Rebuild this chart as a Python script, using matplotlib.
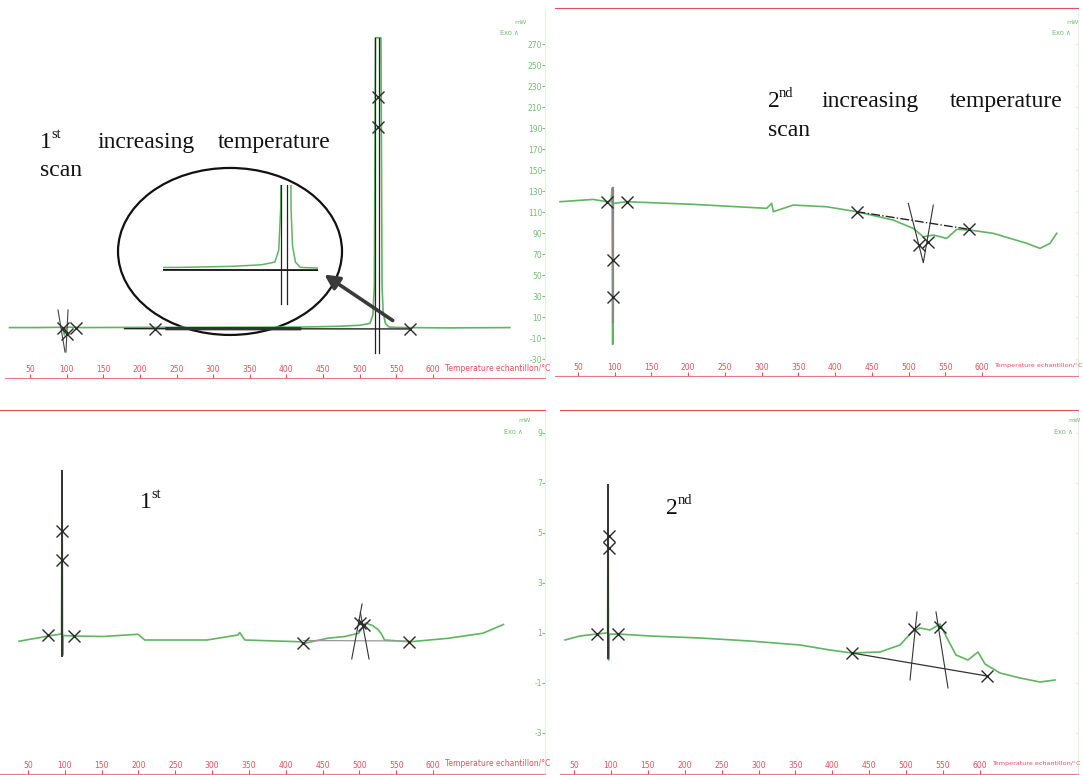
import matplotlib
matplotlib.use("Agg")
import matplotlib.pyplot as plt
from matplotlib.patches import Ellipse

plt.rcParams["axes.unicode_minus"] = False

W, H = 1083, 775
GREEN = "#5fb562"
GREEN_TXT = "#72bd72"
RED = "#e2505c"
MARK = "#2a2a2a"
SERIF = "Liberation Serif"

# ── shared axis ticks ─────────────────────────────────────────────────────────
x_ticks = [50, 100, 150, 200, 250, 300, 350, 400, 450, 500, 550, 600]
a_yticks = [270, 250, 230, 210, 190, 170, 150, 130, 110, 90, 70, 50, 30, 10, -10, -30]
c_yticks = [9, 7, 5, 3, 1, -1, -3]
x_label = "Temperature echantillon/°C"

# ── panel A : 1st scan, heat flow (mW) ────────────────────────────────────────
a_T = [22, 60, 90, 95, 97, 99, 104, 118, 200, 300, 418, 470, 500, 514, 518, 520,
       521.5, 529, 530.5, 532, 535, 540, 560, 620, 705]
a_v = [0, 0, 0.3, 0, -7, 0, 0.4, 0, 0.2, 0.3, 0.5, 1.2, 2.2, 4, 12, 40,
       276, 276, 40, 15, 4, 0.5, 0, -0.3, 0]
a_cross_T = [95, 100.5, 112.8, 220.6, 525, 525, 568.6]
a_cross_v = [0, -6, 0, -1, 219.5, 191, -1.5]
a_base_T = [179, 568.6]
a_base_v = [-1, -1.3]
a_thick_T = [237, 418]
a_thick_v = [-1, -1.1]
a_peak_T = [520.5, 526.5]
a_peak_v = [276, -24]
a_tan1_T = [88.2, 97.8]
a_tan1_v = [16.8, -23.2]
a_tan2_T = [101.9, 99.1]
a_tan2_v = [16.8, -23.2]

# ── panel B : 2nd scan, heat flow (mW) ────────────────────────────────────────
b_T = [25.5, 70.8, 89.1, 95, 96.5, 97.2, 98, 116.3, 206.9, 306.9, 313.7, 315.9,
       343.1, 388.6, 429.4, 479.3, 506.5, 520.1, 533.7, 552, 565.6, 583.7, 615.4,
       660.9, 679, 692.6, 701.7]
b_v = [119.9, 122.1, 119.9, 120, 133, -16, 118.3, 119.9, 117.4, 113.6, 118.3, 110.4,
       116.7, 115.1, 110.4, 102.4, 94.5, 86.5, 88.2, 85, 93.6, 92.9, 89.8,
       80.3, 75.5, 80.3, 89.8]
b_cross_T = [89.1, 116.3, 97.2, 97.2, 429.4, 514.6, 526, 582.7]
b_cross_v = [119.9, 119.9, 64.4, 29.4, 110.4, 78.6, 81.8, 93.6]
b_spike_T = [97.2, 97.2]
b_spike_v = [133, 5]
b_base_T = [429.4, 582.7]
b_base_v = [110.4, 93.6]
b_tan_T = [499.7, 520.1, 533.7]
b_tan_v = [118.3, 61.8, 116.7]

# ── panel C : 1st scan, magnified (mW) ────────────────────────────────────────
c_T = [37.8, 77.6, 95.5, 96.3, 97, 98, 112.5, 152.4, 199.4, 208.6, 293, 335, 337.5,
       344.4, 419.4, 424, 456.9, 480.2, 499, 508.3, 517.7, 524.8, 529.4, 534.1,
       569.2, 620.8, 667.6, 695.6]
c_v = [0.67, 0.88, 0.96, 7.5, 0.1, 0.9, 0.88, 0.86, 0.95, 0.72, 0.72, 0.92, 1.02,
       0.72, 0.65, 0.58, 0.79, 0.86, 0.99, 1.4, 1.3, 1.15, 0.99, 0.72,
       0.65, 0.79, 0.99, 1.34]
c_cross_T = [77.2, 112.5, 96.2, 96.2, 424, 501.3, 506, 566.9]
c_cross_v = [0.92, 0.88, 5.08, 3.92, 0.61, 1.41, 1.34, 0.65]
c_spike_T = [96.2, 96.2]
c_spike_v = [7.5, 0.1]
c_base_T = [424, 567]
c_base_v = [0.7, 0.68]
c_tan1_T = [489.6, 503.6]
c_tan1_v = [-0.04, 2.16]
c_tan2_T = [513.1, 501.3]
c_tan2_v = [-0.04, 1.82]

# ── panel D : 2nd scan, magnified (mW) ────────────────────────────────────────
d_T = [37.8, 58.1, 81.2, 93.4, 95.5, 96.1, 96.8, 98, 109.6, 153, 220.7, 288.4,
       356.2, 396.8, 426.6, 464.5, 491.6, 507.9, 518.7, 532.3, 545.8, 556.7, 567.5,
       583.7, 597.3, 606.8, 627.1, 654.2, 681.3, 701.6]
d_v = [0.72, 0.88, 0.96, 1.0, 1.0, 6.92, -0.08, 0.95, 0.96, 0.88, 0.8, 0.68,
       0.52, 0.32, 0.2, 0.24, 0.52, 1.04, 1.2, 1.12, 1.36, 0.72, 0.12,
       -0.08, 0.24, -0.24, -0.6, -0.8, -0.96, -0.88]
d_cross_T = [81.2, 109.6, 97.4, 97.4, 426.6, 510.6, 545.8, 609.5]
d_cross_v = [0.96, 0.96, 4.4, 4.9, 0.2, 1.16, 1.24, -0.72]
d_spike_T = [96.1, 96.1]
d_spike_v = [6.92, 0]
d_base_T = [426.6, 609.5]
d_base_v = [0.2, -0.72]
d_tan1_T = [505.2, 514.7]
d_tan1_v = [-0.88, 1.84]
d_tan2_T = [540.4, 556.7]
d_tan2_v = [1.84, -1.2]

fig = plt.figure(figsize=(W / 100, H / 100), dpi=100)
fig.patch.set_facecolor("white")


def make_panel(left, right, top, bottom, xlim, ylim, yticks, show_top, show_ylab, lab_size):
    ax = fig.add_axes([left / W, 1 - bottom / H, (right - left) / W, (bottom - top) / H])
    ax.set_xlim(xlim)
    ax.set_ylim(ylim)
    ax.patch.set_visible(False)
    ax.spines["left"].set_visible(False)
    ax.spines["top"].set_visible(show_top)
    ax.spines["top"].set_color(RED)
    ax.spines["bottom"].set_color("#e97a82")
    ax.spines["right"].set_color("#e3f0e2")
    ax.set_xticks(x_ticks)
    ax.tick_params(axis="x", direction="in", length=3, pad=-9.5, labelsize=5.5, colors=RED)
    ax.yaxis.tick_right()
    ax.set_yticks(yticks)
    if show_ylab:
        ax.tick_params(axis="y", direction="in", length=2, pad=-2, labelsize=5.5,
                       colors=GREEN_TXT)
        for lab in ax.get_yticklabels():
            lab.set_horizontalalignment("right")
    else:
        ax.set_yticklabels([])
        ax.tick_params(axis="y", direction="in", length=2, colors="#e3f0e2")
    ax.annotate(x_label, xy=(616, 0), xycoords=("data", "axes fraction"),
                xytext=(0, 7.2), textcoords="offset points", va="center", ha="left",
                fontsize=lab_size, color=RED)
    return ax


def crosses(ax, T, v):
    ax.plot(T, v, ls="none", marker="x", ms=8, mew=1.0, color=MARK, zorder=5)


# ── top-left ──────────────────────────────────────────────────────────────────
axA = make_panel(5, 545, 10, 378, (15.9, 752.9), (-48, 302.4), a_yticks, False, True, 5.5)
axA.plot(a_T, a_v, color=GREEN, lw=1.2)
axA.plot(a_base_T, a_base_v, color="#222", lw=1.0)
axA.plot(a_thick_T, a_thick_v, color="#333", lw=2.4)
for T in a_peak_T:
    axA.plot([T, T], a_peak_v, color="#222", lw=0.9)
axA.plot(a_tan1_T, a_tan1_v, color="#444", lw=0.8)
axA.plot(a_tan2_T, a_tan2_v, color="#444", lw=0.8)
crosses(axA, a_cross_T, a_cross_v)
axA.add_patch(Ellipse((323, 72.5), 305.7, 159, fill=False, ec="#111", lw=1.6))
axA.annotate("", xy=(448.5, 52), xytext=(548.2, 5.3),
             arrowprops=dict(arrowstyle="-|>", color="#3a3a3a", lw=2.6, mutation_scale=22))

# magnified view inside the ellipse
axI = fig.add_axes([163 / W, 1 - 312 / H, 155 / W, 127 / H])
axI.set_xlim(400, 558)
axI.set_ylim(-29, 55)
axI.axis("off")
axI.plot(a_T, a_v, color=GREEN, lw=1.1)
axI.plot(a_base_T, a_base_v, color="#111", lw=1.3)
for T in a_peak_T:
    axI.plot([T, T], a_peak_v, color="#222", lw=0.9)

# ── top-right ─────────────────────────────────────────────────────────────────
axB = make_panel(555, 1078, 8, 376, (18.7, 730.7), (-46, 304.3), a_yticks, True, False, 4.6)
axB.plot(b_T, b_v, color=GREEN, lw=1.2)
axB.plot(b_spike_T, b_spike_v, color="#888", lw=1.6)
axB.plot(b_base_T, b_base_v, color="#222", lw=1.0, ls="-.")
axB.plot(b_tan_T, b_tan_v, color="#333", lw=0.8)
crosses(axB, b_cross_T, b_cross_v)

# ── bottom-left ───────────────────────────────────────────────────────────────
axC = make_panel(0, 545, 410, 774, (12, 752), (-4.64, 9.92), c_yticks, True, True, 5.5)
axC.plot(c_T, c_v, color=GREEN, lw=1.2)
axC.plot(c_spike_T, c_spike_v, color="#333", lw=1.4)
axC.plot(c_base_T, c_base_v, color="#999", lw=0.9)
axC.plot(c_tan1_T, c_tan1_v, color="#333", lw=0.8)
axC.plot(c_tan2_T, c_tan2_v, color="#333", lw=0.8)
crosses(axC, c_cross_T, c_cross_v)

# ── bottom-right ──────────────────────────────────────────────────────────────
axD = make_panel(560, 1078, 410, 774, (31, 732.8), (-4.64, 9.92), c_yticks, True, False, 4.6)
axD.plot(d_T, d_v, color=GREEN, lw=1.2)
axD.plot(d_spike_T, d_spike_v, color="#333", lw=1.4)
axD.plot(d_base_T, d_base_v, color="#333", lw=0.9)
axD.plot(d_tan1_T, d_tan1_v, color="#333", lw=0.8)
axD.plot(d_tan2_T, d_tan2_v, color="#333", lw=0.8)
crosses(axD, d_cross_T, d_cross_v)


# ── units and annotation text ─────────────────────────────────────────────────
def ftxt(x, y, s, **kw):
    fig.text(x / W, 1 - y / H, s, **kw)


for (mx, my) in [(514, 22), (1066, 22), (518, 421), (1068, 421)]:
    ftxt(mx, my, "mW", fontsize=4.5, color=GREEN_TXT, va="center")
    ftxt(mx - 14, my + 11, "Exo \u2227", fontsize=4.8, color=GREEN_TXT, va="center")

big = dict(fontsize=17, family=SERIF, color="#111", va="baseline")
sup = dict(fontsize=10.5, family=SERIF, color="#111", va="baseline")

ftxt(40, 148, "1", **big)
ftxt(51, 138, "st", **sup)
ftxt(98, 148, "increasing", **big)
ftxt(218, 148, "temperature", **big)
ftxt(40, 176, "scan", **big)

ftxt(768, 107, "2", **big)
ftxt(779, 97, "nd", **sup)
ftxt(822, 107, "increasing", **big)
ftxt(950, 107, "temperature", **big)
ftxt(768, 136, "scan", **big)

ftxt(140, 508, "1", **big)
ftxt(151, 498, "st", **sup)
ftxt(666, 514, "2", **big)
ftxt(678, 504, "nd", **sup)

fig.savefig("out.png", dpi=100)
